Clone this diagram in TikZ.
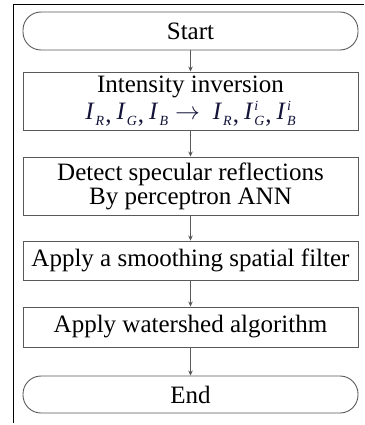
\documentclass[tikz,border=0pt]{standalone}
\usepackage{fontspec}
\setmainfont{Liberation Serif}
\usetikzlibrary{arrows.meta}
\definecolor{mathblue}{rgb}{0.08,0.08,0.22}
\definecolor{boxgray}{gray}{0.35}
\newcommand{\scr}[1]{{\fontsize{14}{14}\selectfont\itshape #1}}
\newcommand{\Ivar}[2]{\textit{I}\kern1pt\rlap{\raisebox{9pt}{\scr{#2}}}\raisebox{-6pt}{\scr{#1}}}
\newcommand{\cm}{\kern1pt\raisebox{-3pt}{,}\kern5pt}
\tikzset{
  every node/.style={font=\fontsize{25}{25}\selectfont},
  procbox/.style={draw=boxgray, line width=0.9pt, minimum width=335pt, inner sep=0pt, align=center},
  termbox/.style={draw=boxgray, line width=0.9pt, minimum width=335pt, inner sep=0pt, rounded corners=18pt},
  flow/.style={draw=boxgray, line width=0.7pt, -{Stealth[length=5pt,width=4.5pt]}},
  frame/.style={draw=black, line width=0.8pt}
}
\begin{document}
\begin{tikzpicture}[x=1pt,y=-1pt]
\useasboundingbox (0,0) rectangle (364,425);
\coordinate (f1) at (13,423);
\coordinate (f2) at (13,4);
\coordinate (f3) at (364,4);
\draw[frame] (f1) -- (f2) -- (f3);
\node[termbox, minimum height=38pt] (start) at (190.5,31) {Start};
\node[procbox, minimum height=58pt] (inv) at (190.5,101) {Intensity inversion\\[2pt]
  \textcolor{mathblue}{\Ivar{R}{}\cm\Ivar{G}{}\cm\Ivar{B}{}\kern7pt\smash{$\rightarrow$}\kern13pt\Ivar{R}{}\cm\Ivar{G}{i}\cm\Ivar{B}{i}}};
\node[procbox, minimum height=58pt] (det) at (190.5,186) {Detect specular reflections\\[-1pt] By perceptron ANN};
\node[procbox, minimum height=39pt] (smooth) at (190.5,260.5) {Apply a smoothing spatial filter};
\node[procbox, minimum height=40pt] (ws) at (190.5,327) {Apply watershed algorithm};
\node[termbox, minimum height=37pt] (end) at (190.5,394.5) {End};
\draw[flow] (start) -- (inv);
\draw[flow] (inv) -- (det);
\draw[flow] (det) -- (smooth);
\draw[flow] (smooth) -- (ws);
\draw[flow] (ws) -- (end);
\end{tikzpicture}
\end{document}
